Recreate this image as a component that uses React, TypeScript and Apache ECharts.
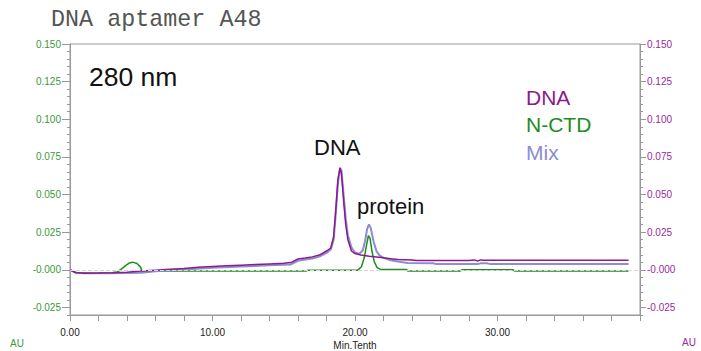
import React, { useEffect, useRef } from "react";
import * as echarts from "echarts";

// ---- data (time in min, absorbance in AU) ----
const dnaTime = [0, 0.4, 1, 2, 3, 4, 5, 6, 7, 8, 9, 10, 11, 12, 13, 14, 15, 15.5, 16.0, 16.5, 17.0, 17.5, 18.0, 18.3, 18.5, 18.65, 18.8, 18.95, 19.05, 19.2, 19.35, 19.5, 19.75, 20.0, 20.4, 21.0, 21.5, 22.0, 22.5, 23.0, 24.0, 24.3, 26, 28, 28.4, 28.6, 28.8, 29, 31, 34, 37, 39.2];
const dnaAU = [0.0, -0.0018, -0.0022, -0.0021, -0.0019, -0.0016, -0.0008, -0.0002, 0.0004, 0.0009, 0.0017, 0.0022, 0.0027, 0.0031, 0.0035, 0.0039, 0.0043, 0.0048, 0.0072, 0.0078, 0.0086, 0.0098, 0.0125, 0.0145, 0.022, 0.04, 0.06, 0.0678, 0.064, 0.046, 0.03, 0.02, 0.0125, 0.0108, 0.0098, 0.009, 0.0085, 0.008, 0.0074, 0.0068, 0.0066, 0.0062, 0.0062, 0.0062, 0.0066, 0.0058, 0.0066, 0.0064, 0.0064, 0.0064, 0.0064, 0.0064];

const mixTime = [0, 0.4, 1, 3, 5, 6, 8, 10, 12, 14, 15.5, 16, 17, 17.5, 18.0, 18.3, 18.5, 18.65, 18.8, 18.95, 19.05, 19.2, 19.35, 19.5, 19.75, 20.0, 20.3, 20.55, 20.7, 20.85, 20.98, 21.1, 21.3, 21.5, 21.7, 22.0, 22.5, 23.0, 23.7, 25.5, 25.7, 28.6, 28.8, 29.3, 29.5, 39.2];
const mixAU = [0.0, -0.002, -0.0023, -0.0022, -0.0019, -0.001, 0.0002, 0.0013, 0.0022, 0.003, 0.0036, 0.006, 0.0075, 0.0088, 0.0112, 0.0135, 0.02, 0.037, 0.057, 0.0675, 0.066, 0.05, 0.034, 0.023, 0.015, 0.0115, 0.0105, 0.013, 0.019, 0.027, 0.0302, 0.028, 0.019, 0.0125, 0.0098, 0.008, 0.0064, 0.0055, 0.0046, 0.0044, 0.0038, 0.0038, 0.0043, 0.0043, 0.0038, 0.0038];

const ctdTime = [0, 0.4, 1, 3, 3.3, 3.6, 3.9, 4.15, 4.4, 4.7, 4.95, 5.05, 10, 16.6, 16.7, 20.2, 20.45, 20.65, 20.8, 20.94, 21.05, 21.2, 21.35, 21.55, 21.8, 23.6, 23.7, 27.4, 27.5, 31.1, 31.2, 39.2];
const ctdAU = [0.0, -0.0018, -0.002, -0.0017, -0.0015, 0.0005, 0.0028, 0.0045, 0.0051, 0.0042, 0.0018, -0.0007, -0.0007, -0.0007, -0.0002, -0.0002, 0.002, 0.008, 0.016, 0.0228, 0.021, 0.012, 0.0055, 0.0015, 0.0003, 0.0003, -0.0007, -0.0007, 0.0, 0.0, -0.0007, -0.0007];

const yMajorTicks = [-0.025, 0, 0.025, 0.05, 0.075, 0.1, 0.125, 0.15];
const legendNames = ["DNA", "N-CTD", "Mix"];

const C_DNA = "#8b1a8b";
const C_CTD = "#1f8c1f";
const C_MIX = "#8d8dd2";
const C_LEFT = "#3a9a3a";
const C_RIGHT = "#9a2a9a";
const AXIS = "#999";

const zip = (t: number[], v: number[]) => t.map((x, i) => [x, v[i]]);
const fmtY = (v: number) => (Math.abs(v) < 1e-9 ? "-0.000" : v.toFixed(3));

export default function App() {
  const ref = useRef<HTMLDivElement>(null);
  useEffect(() => {
    if (!ref.current) return;
    const chart = echarts.init(ref.current, undefined, { renderer: "svg" });
    const yBase = { type: "value", min: -0.03, max: 0.15, splitLine: { show: false } };
    const sans = '"Liberation Sans", Arial, sans-serif';
    chart.setOption({
      animation: false,
      grid: { left: 70, right: 61, top: 44, bottom: 36, show: true, borderColor: AXIS, borderWidth: 1, backgroundColor: "transparent" },
      xAxis: {
        type: "value", min: 0, max: 40, interval: 2,
        axisLine: { show: true, onZero: false, lineStyle: { color: AXIS } },
        axisTick: { show: true, length: 6, lineStyle: { color: AXIS } },
        axisLabel: {
          color: "#222", fontSize: 10, fontFamily: sans, margin: 12,
          formatter: (v: number) => (Math.abs(v % 10) < 1e-6 && v < 39 ? v.toFixed(2) : ""),
        },
        splitLine: { show: false },
      },
      yAxis: [
        { ...yBase, position: "left", interval: 0.005, axisLine: { show: true, onZero: false, lineStyle: { color: AXIS } }, axisTick: { show: true, length: 3, lineStyle: { color: AXIS } }, axisLabel: { show: false } },
        { ...yBase, position: "left", axisLine: { show: false, onZero: false }, axisTick: { show: true, length: 8, customValues: yMajorTicks, lineStyle: { color: AXIS } }, axisLabel: { customValues: yMajorTicks, formatter: fmtY, color: C_LEFT, fontSize: 10, fontFamily: sans, margin: 9 } },
        { ...yBase, position: "right", interval: 0.005, axisLine: { show: true, onZero: false, lineStyle: { color: AXIS } }, axisTick: { show: true, length: 3, lineStyle: { color: AXIS } }, axisLabel: { show: false } },
        { ...yBase, position: "right", axisLine: { show: false, onZero: false }, axisTick: { show: true, length: 6, customValues: yMajorTicks, lineStyle: { color: AXIS } }, axisLabel: { customValues: yMajorTicks, formatter: fmtY, color: C_RIGHT, fontSize: 10, fontFamily: sans, margin: 7 } },
      ],
      series: [
        {
          name: legendNames[1], type: "line", data: zip(ctdTime, ctdAU), showSymbol: false, symbol: "none",
          lineStyle: { color: C_CTD, width: 1.5 }, yAxisIndex: 0,
          markLine: { silent: true, symbol: "none", label: { show: false }, lineStyle: { color: "#d6d6d6", type: "dashed", width: 1 }, data: [{ yAxis: 0 }] },
        },
        { name: legendNames[2], type: "line", data: zip(mixTime, mixAU), showSymbol: false, symbol: "none", lineStyle: { color: C_MIX, width: 2 }, yAxisIndex: 0 },
        { name: legendNames[0], type: "line", data: zip(dnaTime, dnaAU), showSymbol: false, symbol: "none", lineStyle: { color: C_DNA, width: 1.5 }, yAxisIndex: 0 },
      ],
      graphic: [
        { type: "text", x: 51, y: 19.5, style: { text: "DNA aptamer A48", fill: "#555", font: '23.4px "Liberation Mono", monospace', textAlign: "left", textVerticalAlign: "middle" } },
        { type: "text", x: 89, y: 76.5, style: { text: "280 nm", fill: "#111", font: `26.5px ${sans}`, textAlign: "left", textVerticalAlign: "middle" } },
        { type: "text", x: 526, y: 97.5, style: { text: legendNames[0], fill: C_DNA, font: `21px ${sans}`, textAlign: "left", textVerticalAlign: "middle" } },
        { type: "text", x: 526, y: 124.5, style: { text: legendNames[1], fill: C_CTD, font: `21px ${sans}`, textAlign: "left", textVerticalAlign: "middle" } },
        { type: "text", x: 526, y: 152.5, style: { text: legendNames[2], fill: C_MIX, font: `21px ${sans}`, textAlign: "left", textVerticalAlign: "middle" } },
        { type: "text", x: 314, y: 147.5, style: { text: "DNA", fill: "#111", font: `22px ${sans}`, textAlign: "left", textVerticalAlign: "middle" } },
        { type: "text", x: 357, y: 206, style: { text: "protein", fill: "#111", font: `22px ${sans}`, textAlign: "left", textVerticalAlign: "middle" } },
        { type: "text", x: 355, y: 345, style: { text: "Min.Tenth", fill: "#222", font: `10px ${sans}`, textAlign: "center", textVerticalAlign: "middle" } },
        { type: "text", x: 17, y: 343, style: { text: "AU", fill: C_LEFT, font: `10px ${sans}`, textAlign: "center", textVerticalAlign: "middle" } },
        { type: "text", x: 689, y: 342, style: { text: "AU", fill: C_RIGHT, font: `10px ${sans}`, textAlign: "center", textVerticalAlign: "middle" } },
      ],
    });
    return () => chart.dispose();
  }, []);
  return <div ref={ref} style={{ position: "absolute", left: 0, top: 0, width: 701, height: 351, background: "#fff" }} />;
}
